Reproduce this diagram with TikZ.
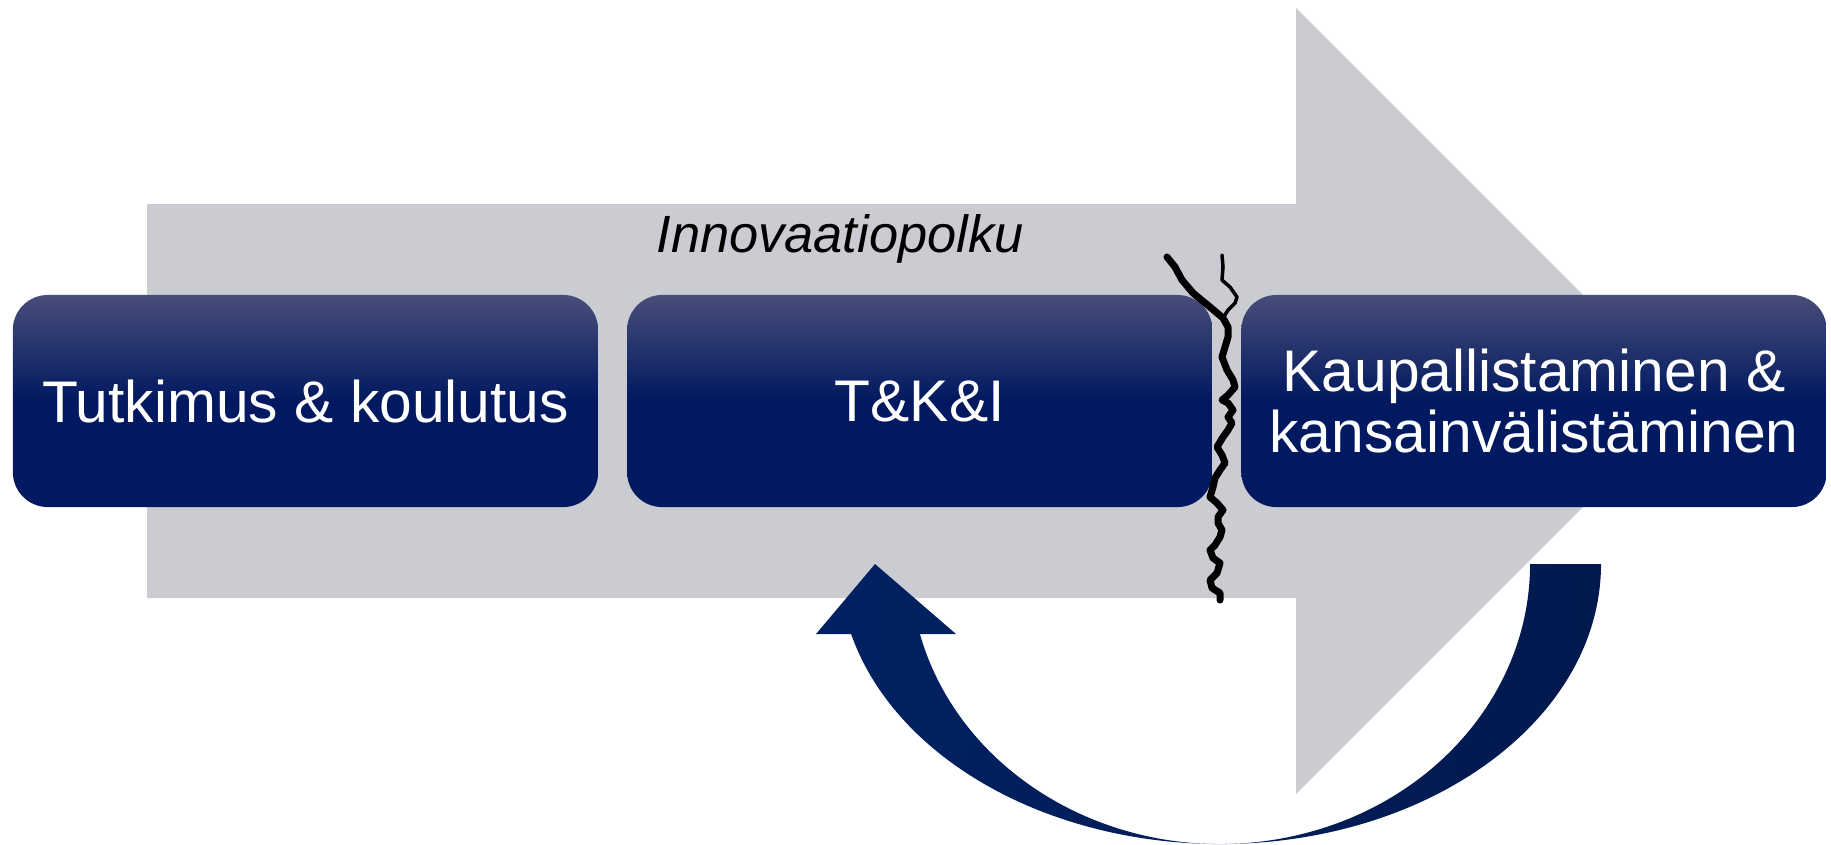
\documentclass[tikz,border=0pt]{standalone}
\usepackage{fontspec}
\setmainfont{Liberation Sans}
\usetikzlibrary{positioning}

\definecolor{polkuharmaa}{RGB}{203,204,209}
\definecolor{boxtop}{RGB}{72,77,121}
\definecolor{boxdark}{RGB}{1,25,96}
\definecolor{kaarivasen}{RGB}{0,33,98}
\definecolor{kaarioikea}{RGB}{2,25,78}

\begin{document}
\begin{tikzpicture}[
	x=0.01cm,
	y=-0.01cm,
	laatikko/.style={rounded corners=0.35cm, minimum width=5.85cm, minimum height=2.12cm, inner sep=0pt,
		top color=boxtop, bottom color=boxdark, middle color=boxdark,
		text=white, align=center, font=\fontsize{16.7}{17.1}\selectfont},
	sarake/.style={line join=round, line cap=round}
]
\useasboundingbox (0,0) rectangle (1831,844);
\fill[polkuharmaa] (147,204) -- (1296,204) -- (1296,8) -- (1689,401) -- (1296,794) -- (1296,598) -- (147,598) -- cycle;
\node[laatikko] (tk) at (305.5,401) {Tutkimus \& koulutus};
\node[laatikko, right=0.275cm of tk] (tki) {T\&K\&I};
\node[laatikko, right=0.275cm of tki] (kk) {Kaupallistaminen \&\\kansainvälistäminen};
\node[anchor=base, inner sep=0pt, font=\fontsize{14.9}{17}\selectfont\itshape] (polku) at (840,252) {Innovaatiopolku};
\draw[sarake, line width=2pt] (1167,257) -- (1175,267) -- (1182,280) -- (1193,293) -- (1210,307) -- (1223,318) -- (1228,327) -- (1228,337) -- (1225,347) -- (1222,357) -- (1227,370) -- (1233,380) -- (1235,387) -- (1228,395) -- (1222,400) -- (1228,403) -- (1233,410) -- (1228,417) -- (1232,423) -- (1228,430) -- (1223,437) -- (1217,447) -- (1222,455) -- (1225,463) -- (1220,470) -- (1215,478) -- (1213,487) -- (1210,497) -- (1217,503) -- (1223,510) -- (1218,517) -- (1218,523) -- (1222,530) -- (1220,537) -- (1215,545) -- (1210,550) -- (1213,558) -- (1220,563) -- (1217,573) -- (1210,580) -- (1212,588) -- (1220,593) -- (1220,600);
\draw[sarake, line width=1pt] (1222,255) -- (1223,267) -- (1222,280) -- (1230,287) -- (1237,297) -- (1235,303) -- (1228,310) -- (1223,318);
\shade[left color=kaarivasen, right color=kaarioikea] (1601,564) arc[start angle=0, end angle=165.52, x radius=381, y radius=280] -- (816,634) -- (875,564) -- (956,634) -- (919.9,634) arc[start angle=165.52, end angle=0, x radius=310, y radius=280] -- cycle;
\end{tikzpicture}
\end{document}
